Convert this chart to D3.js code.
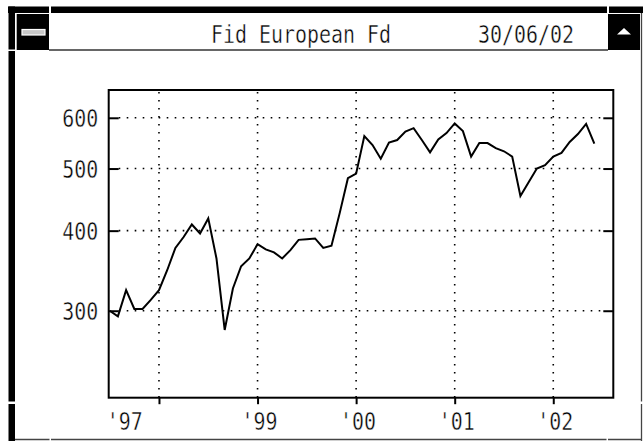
<!DOCTYPE html>
<html><head><meta charset="utf-8">
<script src="https://cdn.jsdelivr.net/npm/d3@7"></script>
<style>html,body{margin:0;padding:0;background:#fff;overflow:hidden}</style>
</head><body><svg id="c" width="643" height="441"></svg>
<script>
// ---- data ----
const titleText = "Fid European Fd";
const dateText = "30/06/02";
const startYear = 1997, startMonth = 7; // first monthly point: Jul 1997
const values = [
  300, 294, 323, 302, 302, 312,            // Jul-Dec 97
  323, 347, 376, 391, 409, 396, 418, 362, 280, 325, 352, 362, // 98
  381, 374, 370, 362, 373, 387, 388, 389, 376, 379, 426, 483, // 99
  491, 562, 544, 518, 549, 554, 571, 578, 554, 530, 555, 568, // 00
  588, 572, 522, 548, 548, 538, 532, 522, 453, 476, 500, 506, // 01
  522, 529, 550, 566, 587, 547              // Jan-Jun 02
];
const yTicks = [300, 400, 500, 600];
const xTickYears = [1998, 1999, 2000, 2001, 2002];
const xLabelYears = [1997, 1999, 2000, 2001, 2002];
const xLabels = ["'97", "'99", "'00", "'01", "'02"];
const yDomain = [219.5, 663];
const xDomain = [1997.49, 2002.609];

// ---- layout ----
const L = 108.7, R = 613.3, T = 90, B = 397.7;
const svg = d3.select("#c");
const CELL = 12, FS = "24.5px", FONT = "'DejaVu Sans Mono', monospace";

function mono(g, str, x, y) {
  return g.append("text").attr("x", x).attr("y", y)
    .attr("textLength", str.length * CELL).attr("lengthAdjust", "spacingAndGlyphs")
    .style("font-family", FONT).style("font-size", FS).attr("fill", "#000")
    .attr("stroke", "#fff").attr("stroke-width", 0.45).attr("paint-order", "fill")
    .text(str);
}

// ---- window chrome ----
const chrome = svg.append("g");
[[8,49],[51,607],[609,643]].forEach(([a,b]) => chrome.append("rect").attr("x",a).attr("y",6.5).attr("width",b-a).attr("height",6.5).attr("fill","#000"));
[[6.5,49.5],[51,401.5],[404,441]].forEach(([a,b]) => chrome.append("rect").attr("x",8.5).attr("y",a).attr("width",6.5).attr("height",b-a).attr("fill","#000"));
chrome.append("rect").attr("x",16.7).attr("y",14).attr("width",32.3).attr("height",36).attr("fill","#000");
chrome.append("rect").attr("x",22).attr("y",29.5).attr("width",23).attr("height",5.5).attr("fill","#c8c8c8").attr("stroke","#fff").attr("stroke-width",1.2);
chrome.append("line").attr("x1",49).attr("x2",608).attr("y1",50).attr("y2",50).attr("stroke","#333").attr("stroke-width",1.3);
chrome.append("rect").attr("x",608).attr("y",14).attr("width",32).attr("height",36).attr("fill","#000");
chrome.append("path").attr("d","M617,34.5L631,34.5L624,28Z").attr("fill","#fff");
[[13,401.5],[404,441]].forEach(([a,b]) => chrome.append("line").attr("x1",641.5).attr("x2",641.5).attr("y1",a).attr("y2",b).attr("stroke","#444").attr("stroke-width",1.3));
[[15,49.5],[51,606.5],[608,641]].forEach(([a,b]) => chrome.append("line").attr("x1",a).attr("x2",b).attr("y1",439.5).attr("y2",439.5).attr("stroke","#444").attr("stroke-width",1.3));

mono(svg, titleText, 211, 43);
mono(svg, dateText, 478, 43);

// ---- scales ----
const x = d3.scaleLinear().domain(xDomain).range([L, R]);
const y = d3.scaleLog().domain(yDomain).range([B, T]);
const pts = values.map((v, i) => {
  const m = startMonth - 1 + i;
  return { t: startYear + Math.floor(m / 12) + (m % 12) / 12, v };
});

// ---- grid ----
const grid = svg.append("g").attr("stroke", "#000").attr("stroke-width", 1.6).attr("stroke-dasharray", "1.6,6.4");
grid.selectAll(".hg").data(yTicks).join("line")
  .attr("x1", L + 10).attr("x2", R - 10).attr("y1", d => y(d)).attr("y2", d => y(d));
grid.selectAll(".vg").data(xTickYears).join("line")
  .attr("x1", d => x(d)).attr("x2", d => x(d)).attr("y1", T + 2).attr("y2", B);

// ---- axes (ticks) ----
const axL = svg.append("g").attr("transform", `translate(${L},0)`)
  .call(d3.axisLeft(y).tickValues(yTicks).tickSize(-10).tickFormat(""));
const axR = svg.append("g").attr("transform", `translate(${R},0)`)
  .call(d3.axisRight(y).tickValues(yTicks).tickSize(-10).tickFormat(""));
const axB = svg.append("g").attr("transform", `translate(0,${B})`)
  .call(d3.axisBottom(x).tickValues(xTickYears).tickSize(6.5).tickFormat(""));
[axL, axR, axB].forEach(a => {
  a.select(".domain").remove();
  a.selectAll(".tick line").attr("stroke", "#000").attr("stroke-width", 2);
});

// frame
svg.append("rect").attr("x", L).attr("y", T).attr("width", R - L).attr("height", B - T)
  .attr("fill", "none").attr("stroke", "#000").attr("stroke-width", 2);

// ---- labels ----
yTicks.forEach(v => mono(svg, String(v), L - 10.5 - 36, y(v) + 9));
xLabelYears.forEach((yr, i) => {
  const sx = Math.max(x(yr) - 16, L - 2);
  mono(svg, xLabels[i], sx, 430);
});

// ---- line ----
svg.append("path").datum(pts)
  .attr("fill", "none").attr("stroke", "#000").attr("stroke-width", 2)
  .attr("stroke-linejoin", "miter")
  .attr("d", d3.line().x(d => x(d.t)).y(d => y(d.v)));
</script></body></html>
